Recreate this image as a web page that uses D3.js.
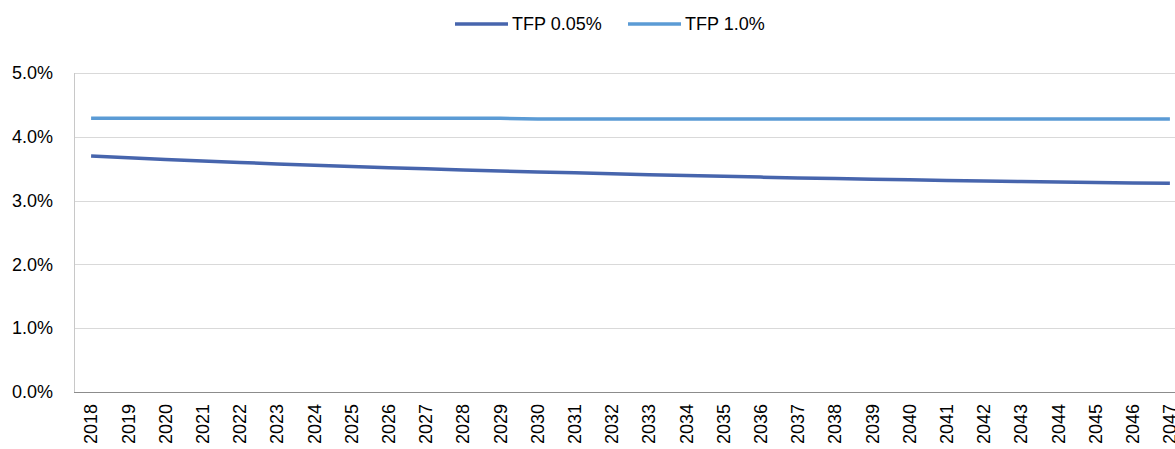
<!DOCTYPE html>
<html>
<head>
<meta charset="utf-8">
<script src="https://cdn.jsdelivr.net/npm/d3@7"></script>
<style>
  html, body { margin: 0; padding: 0; background: #fff; }
  svg { display: block; font-family: "Liberation Sans", Arial, sans-serif; }
</style>
</head>
<body>
<svg id="chart" width="1175" height="449"></svg>
<script>
const years = d3.range(2018, 2048).map(String);
const seriesNames = ["TFP 0.05%", "TFP 1.0%"];
const tfp005 = [3.70, 3.67, 3.645, 3.62, 3.597, 3.575, 3.555, 3.535, 3.516, 3.498,
                3.481, 3.465, 3.45, 3.435, 3.421, 3.407, 3.393, 3.38, 3.368, 3.356,
                3.345, 3.335, 3.325, 3.316, 3.307, 3.299, 3.291, 3.284, 3.277, 3.27];
const tfp10 = [4.29, 4.29, 4.29, 4.29, 4.29, 4.29, 4.29, 4.29, 4.29, 4.29,
               4.29, 4.29, 4.28, 4.28, 4.28, 4.28, 4.28, 4.28, 4.28, 4.28,
               4.28, 4.28, 4.28, 4.28, 4.28, 4.28, 4.28, 4.28, 4.28, 4.28];
const yTicks = [0, 1, 2, 3, 4, 5];
const colors = ["#4765AD", "#5B9BD5"];

const svg = d3.select("#chart");
const mLeft = 74, mRight = 1175, mTop = 73, mBottom = 392;

const x = d3.scaleBand().domain(years).range([72.5, 1188.5]);
const y = d3.scaleLinear().domain([0, 5]).range([mBottom, mTop]);

// gridlines
svg.append("g").selectAll("line").data(yTicks.filter(d => d > 0)).join("line")
  .attr("x1", mLeft).attr("x2", mRight)
  .attr("y1", d => Math.round(y(d)) + 0.5).attr("y2", d => Math.round(y(d)) + 0.5)
  .attr("stroke", "#d9d9d9").attr("stroke-width", 1);

// y axis labels
const yAxis = d3.axisLeft(y).tickValues(yTicks).tickFormat(d => d.toFixed(1) + "%").tickSize(0).tickPadding(21);
const gy = svg.append("g").attr("transform", `translate(${mLeft},0)`).call(yAxis);
gy.select(".domain").remove();
gy.selectAll("text").attr("font-size", 18).attr("fill", "#000").attr("font-family", "Liberation Sans, Arial, sans-serif");

// left axis line
svg.append("line").attr("x1", mLeft + 0.5).attr("x2", mLeft + 0.5).attr("y1", mTop).attr("y2", mBottom)
  .attr("stroke", "#c8c8c8").attr("stroke-width", 1);
// bottom axis line
svg.append("line").attr("x1", mLeft).attr("x2", mRight)
  .attr("y1", Math.round(y(0)) + 0.5).attr("y2", Math.round(y(0)) + 0.5)
  .attr("stroke", "#8c8c8c").attr("stroke-width", 1);

// x axis labels
const xAxis = d3.axisBottom(x).tickSize(0).tickPadding(0);
const gx = svg.append("g").attr("transform", `translate(0,${mBottom})`).call(xAxis);
gx.select(".domain").remove();
gx.selectAll("text")
  .attr("font-size", 18).attr("fill", "#000").attr("font-family", "Liberation Sans, Arial, sans-serif")
  .attr("transform", "rotate(-90)")
  .attr("text-anchor", "end")
  .attr("x", -12).attr("y", 0).attr("dy", "0.35em");

// lines
const line = d3.line().x((d, i) => x(years[i]) + x.bandwidth() / 2).y(d => y(d));
[tfp005, tfp10].forEach((vals, k) => {
  svg.append("path").datum(vals)
    .attr("d", line)
    .attr("fill", "none")
    .attr("stroke", colors[k])
    .attr("stroke-width", 3.5)
    .attr("stroke-linejoin", "round");
});

// legend
const legendItems = [{x: 455, name: seriesNames[0]}, {x: 628, name: seriesNames[1]}];
const lg = svg.append("g");
legendItems.forEach((it, k) => {
  lg.append("line").attr("x1", it.x).attr("x2", it.x + 53).attr("y1", 24).attr("y2", 24)
    .attr("stroke", colors[k]).attr("stroke-width", 3.5);
  lg.append("text").attr("x", it.x + 57).attr("y", 24).attr("dy", "0.35em")
    .attr("font-size", 18).attr("fill", "#000").text(it.name);
});
</script>
</body>
</html>
